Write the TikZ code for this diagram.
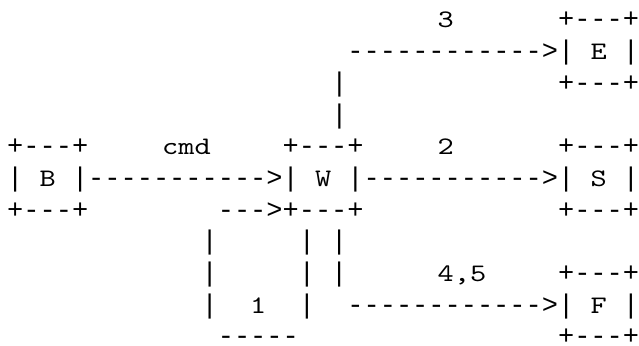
\documentclass[tikz,border=0pt]{standalone}
\usepackage{fontspec}
\setmonofont{Liberation Mono}
\newfontfamily\lmtt{lmmono10-regular.otf}
\newcommand\sk[1]{\hspace*{\dimexpr\fontcharwd\font`\x*#1\relax}}
\newcommand\lt[1]{\makebox[\fontcharwd\font`\x][c]{\scalebox{1.224}[1]{\lmtt\fontsize{25.2}{31.7}\selectfont #1}}}
\newcommand\lbl[1]{\hspace*{-7pt}#1\hspace*{7pt}}
\tikzset{
  asciirow/.style={anchor=base west, inner sep=0pt, outer sep=0pt,
    font=\ttfamily\fontsize{27}{31.7}\selectfont, text=black}
}
\begin{document}
\begin{tikzpicture}[x=1pt,y=1pt]
\fill[white] (0,0) rectangle (639,345);
\useasboundingbox (0,0) rectangle (639,345);
\def\xo{7.2}
\node[asciirow] (r0) at (\xo,317.0) {\sk{27}\lbl{\lt{3}}\sk{6}+---+};
\node[asciirow] (r1) at (\xo,285.3) {\sk{21}------------>|\sk{1}\lt{E}\sk{1}|};
\node[asciirow] (r2) at (\xo,253.6) {\sk{20}|\sk{13}+---+};
\node[asciirow] (r3) at (\xo,221.9) {\sk{20}|};
\node[asciirow] (r4) at (\xo,190.2) {+---+\sk{5}\lbl{\lt{c}\lt{m}\lt{d}}\sk{4}+---+\sk{5}\lbl{\lt{2}}\sk{6}+---+};
\node[asciirow] (r5) at (\xo,158.5) {|\sk{1}\lt{B}\sk{1}|----------->|\sk{1}\lt{W}\sk{1}|----------->|\sk{1}\lt{S}\sk{1}|};
\node[asciirow] (r6) at (\xo,126.8) {+---+\sk{8}--->+---+\sk{12}+---+};
\node[asciirow] (r7) at (\xo,95.1) {\sk{12}|\sk{5}|\sk{1}|};
\node[asciirow] (r8) at (\xo,63.4) {\sk{12}|\sk{5}|\sk{1}|\sk{6}\lbl{\lt{4}\lt{,}\lt{5}}\sk{4}+---+};
\node[asciirow] (r9) at (\xo,31.7) {\sk{12}|\sk{2}\lt{1}\sk{2}|\sk{2}------------>|\sk{1}\lt{F}\sk{1}|};
\node[asciirow] (r10) at (\xo,1.0) {\sk{13}-----\sk{16}+---+};
\end{tikzpicture}
\end{document}
